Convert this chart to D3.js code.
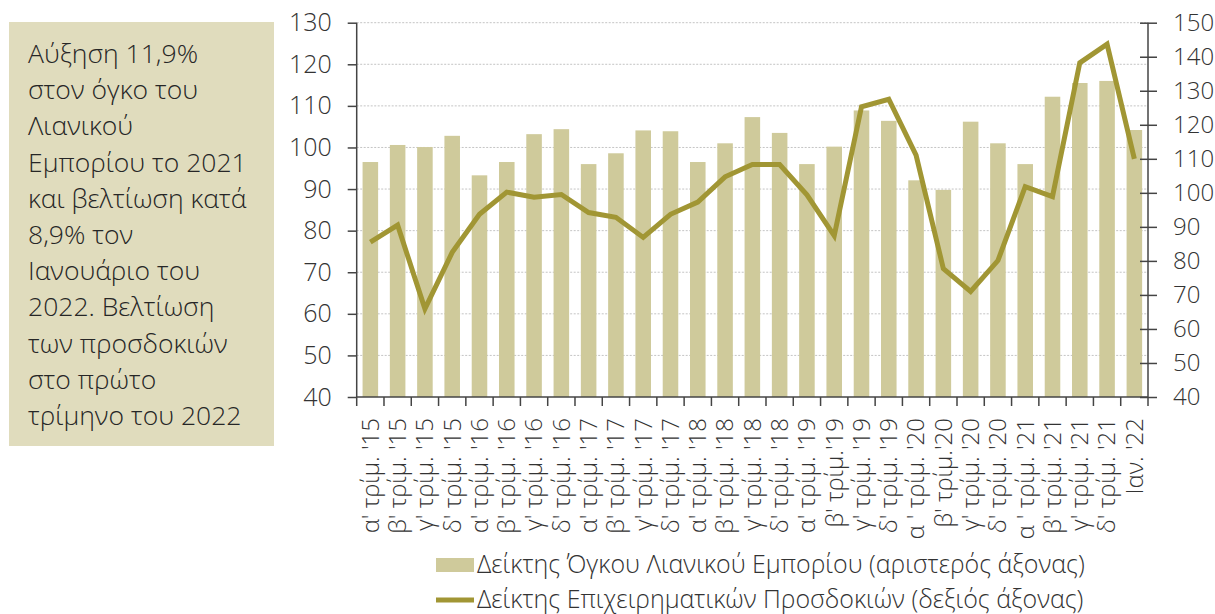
<!DOCTYPE html>
<html>
<head>
<meta charset="utf-8">
<script src="https://cdn.jsdelivr.net/npm/d3@7"></script>
<style>
  body { margin: 0; background: #fff; }
  text { font-family: "Open Sans", sans-serif; font-weight: 300; fill: #333; }
</style>
</head>
<body>
<div id="wrapper"></div>
<script>
// categories (quarters + Jan '22)
const periods = [
  "α' τρίμ. '15", "β' τρίμ. '15", "γ' τρίμ. '15", "δ' τρίμ. '15",
  "α' τρίμ. '16", "β' τρίμ. '16", "γ' τρίμ. '16", "δ' τρίμ. '16",
  "α' τρίμ. '17", "β' τρίμ. '17", "γ' τρίμ. '17", "δ' τρίμ. '17",
  "α' τρίμ. '18", "β' τρίμ. '18", "γ' τρίμ. '18", "δ' τρίμ. '18",
  "α' τρίμ. '19", "β' τρίμ.'19", "γ' τρίμ. '19", "δ' τρίμ. '19",
  "α ' τρίμ. '20", "β' τρίμ.'20", "γ' τρίμ. '20", "δ' τρίμ. '20",
  "α ' τρίμ. '21", "β' τρίμ. '21", "γ' τρίμ. '21", "δ' τρίμ. '21",
  "Ιαν. '22"
] ;

// retail volume index (left axis)
const retailVolume = [
  96.5, 100.6, 100.1, 102.8,
  93.3, 96.5, 103.2, 104.4,
  96.0, 98.6, 104.1, 103.9,
  96.5, 101.0, 107.3, 103.5,
  96.0, 100.2, 108.9, 106.4,
  92.1, 89.8, 106.2, 101.0,
  96.0, 112.2, 115.5, 116.0,
  104.2
] ;

// business expectations index (right axis)
const expectations = [
  85.5, 90.5, 65.9, 82.5,
  93.7, 100.2, 98.7, 99.5,
  94.2, 92.8, 86.9, 93.7,
  97.3, 104.7, 108.3, 108.3,
  99.4, 87.4, 125.3, 127.5,
  111.1, 77.7, 71.0, 80.1,
  101.8, 98.9, 138.2, 143.7,
  110.0
] ;

const leftTicks = [40, 50, 60, 70, 80, 90, 100, 110, 120, 130] ;
const rightTicks = [40, 50, 60, 70, 80, 90, 100, 110, 120, 130, 140, 150] ;

const noteLines = [
  "Αύξηση 11,9%",
  "στον όγκο του",
  "Λιανικού",
  "Εμπορίου το 2021",
  "και βελτίωση κατά",
  "8,9% τον",
  "Ιανουάριο του",
  "2022. Βελτίωση",
  "των προσδοκιών",
  "στο πρώτο",
  "τρίμηνο του 2022"
] ;

const legendLabels = [
  "Δείκτης Όγκου Λιανικού Εμπορίου (αριστερός άξονας)",
  "Δείκτης Επιχειρηματικών Προσδοκιών (δεξιός άξονας)"
] ;

const barColor = "#cfca9b" ;
const lineColor = "#a19634" ;
const axisColor = "#444" ;

let dimensions = {
  width: 1215,
  height: 614,
  margin: { top: 22.7, right: 67, bottom: 217, left: 356.7 }
} ;
dimensions.boundedWidth = dimensions.width - dimensions.margin.left - dimensions.margin.right ;
dimensions.boundedHeight = dimensions.height - dimensions.margin.top - dimensions.margin.bottom ;

const svg = d3.select("#wrapper").append("svg")
  .attr("width", dimensions.width)
  .attr("height", dimensions.height) ;

// note box on the left
const note = svg.append("g") ;
note.append("rect")
  .attr("x", 9).attr("y", 22)
  .attr("width", 265).attr("height", 424)
  .attr("fill", "#e0dcbd") ;
note.selectAll("text")
  .data(noteLines)
  .enter().append("text")
    .attr("x", 28)
    .attr("y", (d, i) => 63 + i * 36.2)
    .style("font-size", "26.5px")
    .style("fill", "#262626")
    .text((d) => d) ;

const bounds = svg.append("g")
  .attr("transform", `translate(${dimensions.margin.left}, ${dimensions.margin.top})`) ;

const xScale = d3.scaleBand()
  .domain(periods)
  .range([0, dimensions.boundedWidth]) ;

const yLeft = d3.scaleLinear()
  .domain([40, 130])
  .range([dimensions.boundedHeight, 0]) ;

const yRight = d3.scaleLinear()
  .domain([40, 150])
  .range([dimensions.boundedHeight, 0]) ;

// gridlines
bounds.append("g")
  .selectAll("line")
  .data(leftTicks.slice(1))
  .enter().append("line")
    .attr("x1", 0).attr("x2", dimensions.boundedWidth)
    .attr("y1", (d) => yLeft(d)).attr("y2", (d) => yLeft(d))
    .attr("stroke", "#c4c4c4")
    .attr("stroke-width", 1)
    .attr("stroke-dasharray", "2,1.5") ;

// bars
const barW = xScale.bandwidth() * 0.57 ;
bounds.append("g")
  .selectAll("rect")
  .data(retailVolume)
  .enter().append("rect")
    .attr("x", (d, i) => xScale(periods[i]) + (xScale.bandwidth() - barW) / 2)
    .attr("y", (d) => yLeft(d))
    .attr("width", barW)
    .attr("height", (d) => yLeft(40) - yLeft(d))
    .attr("fill", barColor) ;

// line
const lineGen = d3.line()
  .x((d, i) => xScale(periods[i]) + xScale.bandwidth() / 2)
  .y((d) => yRight(d)) ;

bounds.append("path")
  .datum(expectations)
  .attr("d", lineGen)
  .attr("fill", "none")
  .attr("stroke", lineColor)
  .attr("stroke-width", 5)
  .attr("stroke-linejoin", "miter") ;

// left axis
const yAxisLeft = bounds.append("g")
  .call(d3.axisLeft(yLeft).tickValues(leftTicks).tickSize(9).tickSizeOuter(0).tickPadding(16)) ;
yAxisLeft.select(".domain").remove() ;
yAxisLeft.selectAll("line").attr("stroke", axisColor).attr("stroke-width", 1.5) ;
yAxisLeft.selectAll("text").style("font-size", "25px").style("font-family", "Open Sans").style("fill", "#333") ;
yAxisLeft.append("line")
  .attr("x1", 0).attr("x2", 0)
  .attr("y1", 0).attr("y2", dimensions.boundedHeight + 9)
  .attr("stroke", axisColor).attr("stroke-width", 1.5) ;

// right axis
const yAxisRight = bounds.append("g")
  .attr("transform", `translate(${dimensions.boundedWidth}, 0)`)
  .call(d3.axisRight(yRight).tickValues(rightTicks).tickSize(9).tickSizeOuter(0).tickPadding(16)) ;
yAxisRight.select(".domain").remove() ;
yAxisRight.selectAll(".tick").append("line").attr("x2", -8) ;
yAxisRight.selectAll("line").attr("stroke", axisColor).attr("stroke-width", 1.5) ;
yAxisRight.selectAll("text").style("font-size", "24px").style("font-family", "Open Sans").style("fill", "#333") ;
yAxisRight.append("line")
  .attr("x1", 0).attr("x2", 0)
  .attr("y1", 0).attr("y2", dimensions.boundedHeight + 9)
  .attr("stroke", axisColor).attr("stroke-width", 1.5) ;

// bottom axis
const xAxis = bounds.append("g")
  .attr("transform", `translate(0, ${dimensions.boundedHeight})`) ;
xAxis.append("line")
  .attr("x1", 0).attr("x2", dimensions.boundedWidth)
  .attr("stroke", axisColor).attr("stroke-width", 1.5) ;
xAxis.selectAll(".xtick")
  .data(periods.slice(1))
  .enter().append("line")
    .attr("x1", (d) => xScale(d)).attr("x2", (d) => xScale(d))
    .attr("y1", 0).attr("y2", 9)
    .attr("stroke", axisColor).attr("stroke-width", 1.5) ;
xAxis.selectAll("text")
  .data(periods)
  .enter().append("text")
    .attr("transform", (d) => `translate(${xScale(d) + xScale.bandwidth() / 2}, 21) rotate(-90)`)
    .attr("text-anchor", "end")
    .attr("dy", "0.35em")
    .style("font-size", "24px")
    .text((d) => d) ;

// legend
const legend = svg.append("g") ;
legend.append("rect")
  .attr("x", 436).attr("y", 558)
  .attr("width", 38).attr("height", 14)
  .attr("fill", barColor) ;
legend.append("line")
  .attr("x1", 436).attr("x2", 474)
  .attr("y1", 600).attr("y2", 600)
  .attr("stroke", lineColor).attr("stroke-width", 5) ;
legend.selectAll("text")
  .data(legendLabels)
  .enter().append("text")
    .attr("x", 477)
    .attr("y", (d, i) => 573 + i * 35)
    .style("font-size", "25px")
    .text((d) => d) ;
</script>
</body>
</html>
